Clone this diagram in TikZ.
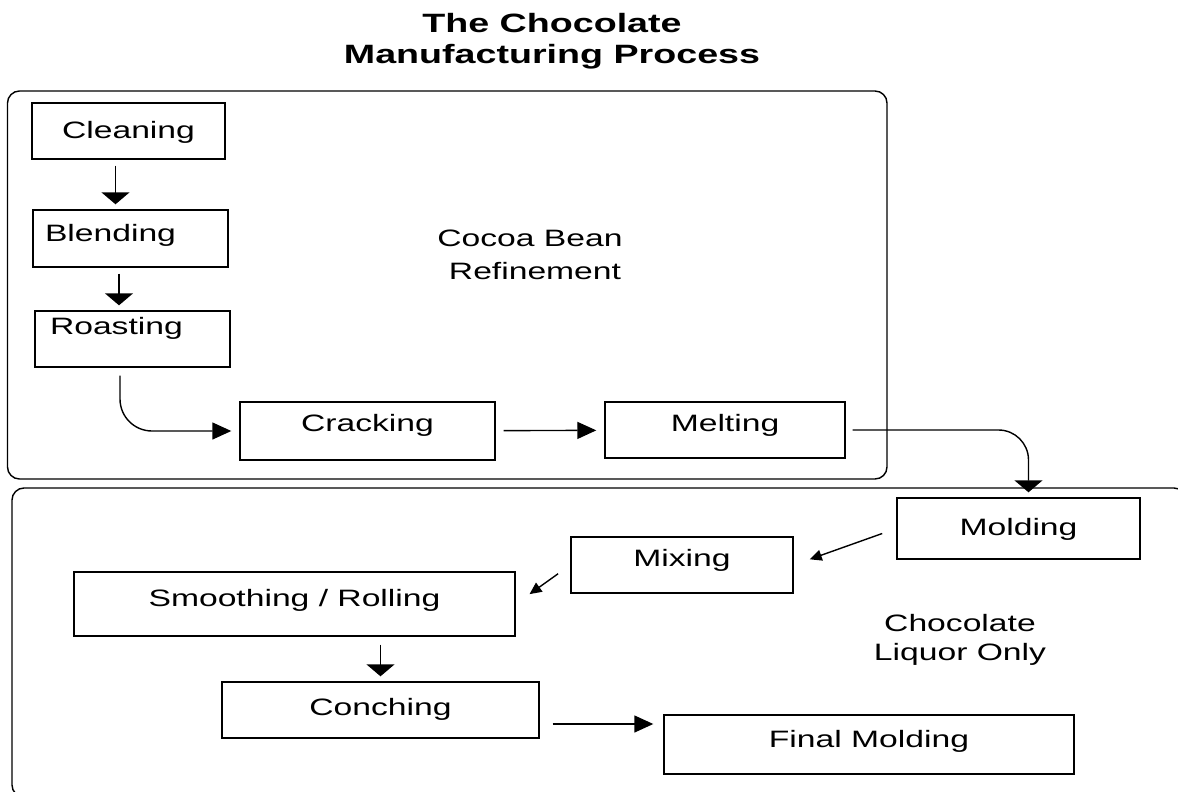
\documentclass[tikz,border=0pt]{standalone}
\usepackage{fontspec}
\setmainfont[FakeStretch=1.42]{Liberation Sans}
\usetikzlibrary{arrows.meta}

\begin{document}
\begin{tikzpicture}[x=1pt,y=-1pt,line width=1.4pt,
    font=\fontsize{23.7}{29}\selectfont,
    stepbox/.style={draw,rectangle,inner sep=0pt,text height=17pt,text depth=12pt},
    down/.style={-{Triangle[length=12pt,width=28pt]},shorten <=6pt,shorten >=5pt},
    across/.style={-{Triangle[length=19pt,width=17pt]},shorten <=8pt,shorten >=8pt},
    slant/.style={-{Triangle[length=12pt,width=11pt]},shorten <=15pt,shorten >=17pt}]
    \clip (0,0) rectangle (1178,792);

    % title
    \node[font=\bfseries\fontsize{26.5}{31}\selectfont,align=center] (title) at (552,41) {The Chocolate\\Manufacturing Process};

    % the two stages
    \draw[rounded corners=12pt] (7.5,91) rectangle (887,479);
    \draw[rounded corners=12pt] (12,488) rectangle (1186,797);
    \node[align=center,font=\fontsize{23.7}{33}\selectfont] (cocoa) at (530,255) {Cocoa Bean\\\hspace*{10pt}Refinement};
    \node[align=center] (liquor) at (960,640) {Chocolate\\Liquor Only};

    % steps
    \node[stepbox,minimum width=193pt,minimum height=56pt,text depth=3pt] (clean) at (128.5,131) {Cleaning};
    \node[stepbox,minimum width=195pt,minimum height=57pt,text width=171pt,align=left] (blend) at (130.5,238.5) {Blending};
    \node[stepbox,minimum width=195pt,minimum height=56pt,text width=165pt,align=left,text depth=26pt] (roast) at (132.5,339) {Roasting};
    \node[stepbox,minimum width=255pt,minimum height=58pt,text depth=16pt] (crack) at (367.5,431) {Cracking};
    \node[stepbox,minimum width=240pt,minimum height=56pt,text depth=14pt] (melt) at (725,430) {Melting};
    \node[stepbox,minimum width=243pt,minimum height=61pt,text depth=3pt] (mold) at (1018.5,528.5) {Molding};
    \node[stepbox,minimum width=222pt,minimum height=56pt,text depth=14pt] (mix) at (682,565) {Mixing};
    \node[stepbox,minimum width=441pt,minimum height=64pt] (smooth) at (294.5,604) {Smoothing / Rolling};
    \node[stepbox,minimum width=317pt,minimum height=56pt,text depth=6pt] (conch) at (380.5,710) {Conching};
    \node[stepbox,minimum width=410pt,minimum height=59pt] (final) at (869,744.5) {Final Molding};

    % flow
    \draw[down] ([xshift=-13pt]clean.south) -- ([xshift=-13pt]clean.south |- blend.north);
    \draw[down] ([xshift=-11.5pt]blend.south) -- ([xshift=-11.5pt]blend.south |- roast.north);
    \draw[across,rounded corners=32pt] ([xshift=-12.5pt]roast.south) |- (crack.west);
    \draw[across] (crack) -- (melt);
    \draw[down,rounded corners=30pt,shorten <=7pt] (melt.east) -| ([xshift=10pt]mold.north);
    \draw[slant] (mold.west) -- (mix.east);
    \draw[slant] (mix.west) -- (smooth.east);
    \draw[down,shorten <=8pt] (smooth.south -| conch.north) -- (conch.north);
    \draw[across,shorten <=13pt,shorten >=10pt] ([yshift=-14pt]conch.east) -- ([yshift=-14pt]conch.east -| final.west);
\end{tikzpicture}
\end{document}
